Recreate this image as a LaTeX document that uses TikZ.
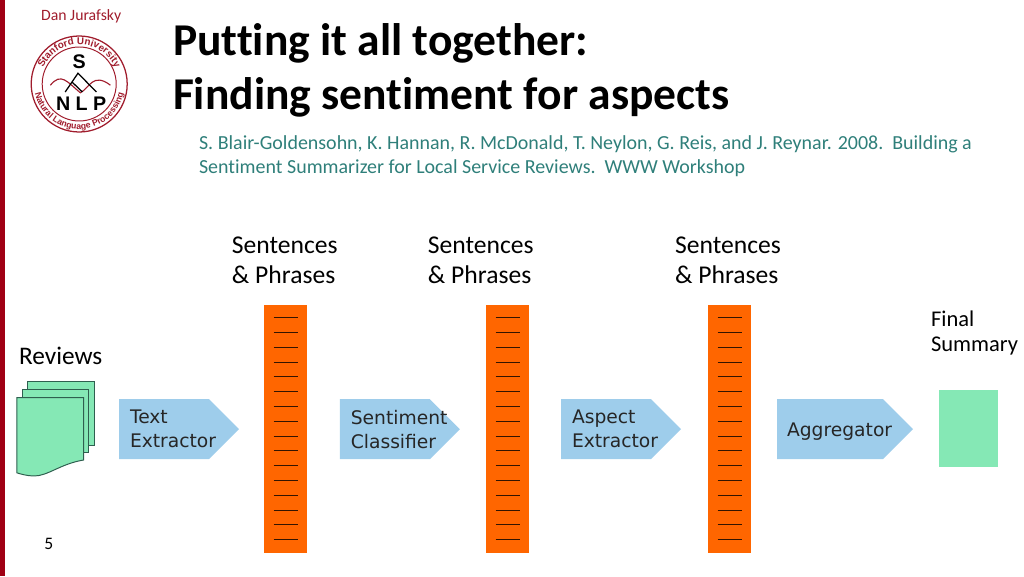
\documentclass[tikz,border=0pt]{standalone}
\usepackage{fontspec}
\setmainfont{Carlito}[Ligatures=NoCommon]
\newfontfamily\stagefont{DejaVu Sans}
\newfontfamily\logofont{Liberation Sans}
\usepackage{tikz}
\usetikzlibrary{shapes.symbols, decorations.text}
\definecolor{slidered}{HTML}{A00014}
\definecolor{logored}{HTML}{A01C2C}
\definecolor{citeteal}{HTML}{2F7F7A}
\definecolor{stagefill}{HTML}{9ECDEB}
\definecolor{barfill}{HTML}{FF6600}
\definecolor{pagefill}{HTML}{85E8B5}
\definecolor{pageline}{HTML}{2F5F4F}

\begin{document}
\begin{tikzpicture}
    \tikzstyle{stage} = [signal, signal to=east, signal from=nowhere, signal pointer angle=90, minimum width=3cm, minimum height=1.5cm, inner sep=0pt, text width=1.7cm, align=left, fill=stagefill, text=black!85, font=\stagefont\fontsize{13.3}{17}\selectfont]
    \tikzstyle{bar} = [rectangle, minimum width=1.075cm, minimum height=6.2cm, inner sep=0pt, fill=barfill]
    \tikzstyle{barlabel} = [font=\fontsize{18.2}{21.5}\selectfont, align=left, inner sep=0pt]
    \tikzstyle{sheet} = [draw=pageline, fill=pagefill, line width=.7pt]
    \useasboundingbox (0cm,0cm) rectangle (25.6cm,14.4cm);
    \fill[slidered] (0cm,0cm) rectangle (.125cm,14.4cm);
    % header
    \node (author) [text=logored, font=\fontsize{11.2}{13}\selectfont, inner sep=0pt] at (2.03cm,13.98cm) {Dan Jurafsky};
    \node (title) [font=\bfseries\fontsize{32.4}{38.4}\selectfont, align=left, inner sep=0pt, anchor=west] at (4.32cm,12.63cm) {Putting it all together:\\Finding sentiment for aspects};
    \node (cite) [text=citeteal, font=\fontsize{14.2}{17}\selectfont, align=left, inner sep=0pt, anchor=west] at (4.97cm,10.5cm) {S. Blair-Goldensohn, K. Hannan, R. McDonald, T. Neylon, G. Reis, and J. Reynar. 2008.~~Building a\\Sentiment Summarizer for Local Service Reviews.~~WWW Workshop};
    % logo
    \coordinate (logo) at (1.98cm,12.3cm);
    \draw[logored, line width=.9pt] (logo) circle (1.2cm);
    \draw[logored, line width=.7pt] (logo) circle (.925cm);
    \path[decorate, decoration={text along path, text align=center, text={|\logofont\bfseries\fontsize{7}{7}\selectfont\color{logored}|Stanford University}}] ([shift={(165:.985cm)}]logo) arc (165:15:.985cm);
    \path[decorate, decoration={text along path, text align=center, text={|\logofont\bfseries\fontsize{6.2}{6.2}\selectfont\color{logored}|Natural Language Processing}}] ([shift={(180:1.13cm)}]logo) arc (180:360:1.13cm);
    \node (logo-s) [font=\logofont\bfseries\fontsize{14}{14}\selectfont, inner sep=0pt] at ([yshift=.55cm]logo) {S};
    \node (logo-nlp) [font=\logofont\bfseries\fontsize{14}{14}\selectfont, inner sep=0pt] at ([shift={(.05cm,-.5cm)}]logo) {N L P};
    \draw[logored, line width=.8pt] ([shift={(-.72cm,-.03cm)}]logo) .. controls ([shift={(-.45cm,.3cm)}]logo) and ([shift={(-.3cm,.05cm)}]logo) .. ([shift={(.03cm,-.22cm)}]logo) .. controls ([shift={(.25cm,-.1cm)}]logo) and ([shift={(.35cm,.3cm)}]logo) .. ([shift={(.78cm,-.03cm)}]logo);
    \draw[black, line width=.9pt] ([shift={(-.35cm,-.2cm)}]logo) -- ([shift={(-.03cm,.27cm)}]logo) -- ([shift={(.43cm,-.2cm)}]logo);
    \draw[black, line width=.9pt] ([shift={(-.18cm,.05cm)}]logo) -- ([shift={(.08cm,-.2cm)}]logo);
    % reviews
    \node (reviews) [font=\fontsize{18}{20}\selectfont, inner sep=0pt, anchor=west] at (.47cm,5.5cm) {Reviews};
    \draw[sheet] (.68cm,4.87cm) rectangle (2.35cm,3.27cm);
    \draw[sheet] (.56cm,4.66cm) rectangle (2.2cm,3.1cm);
    \draw[sheet] (.42cm,4.46cm) -- (2.09cm,4.46cm) -- (2.09cm,2.9cm) .. controls (1.5cm,2.8cm) and (1.2cm,2.5cm) .. (.85cm,2.5cm) .. controls (.7cm,2.5cm) and (.5cm,2.55cm) .. (.42cm,2.58cm) -- cycle;
    % stages
    \node (text-extractor) [stage] at (4.1cm,3.67cm) {Text\\Extractor};
    \node (sentiment-classifier) [stage] at (9.62cm,3.67cm) {Sentiment\\Classifier};
    \node (aspect-extractor) [stage] at (15.15cm,3.67cm) {Aspect\\Extractor};
    \node (aggregator) [stage, minimum width=3.4cm, text width=2.15cm, text depth=0pt] at (20.75cm,3.67cm) {Aggregator};
    % bars
    \foreach \i/\x in {1/7.14,2/12.69,3/18.24} {
        \node (bar\i) [bar] at (\x cm,3.675cm) {};
        \foreach \y in {.325,.695,...,5.9}
            \draw[black!80!barfill, thick] ([xshift=-.3cm,yshift=-\y cm]bar\i.north) -- ([xshift=.3cm,yshift=-\y cm]bar\i.north);
    }
    \node (phrases1) [barlabel] at (7.12cm,7.89cm) {Sentences\\\& Phrases};
    \node (phrases2) [barlabel] at (12.02cm,7.89cm) {Sentences\\\& Phrases};
    \node (phrases3) [barlabel] at (18.2cm,7.89cm) {Sentences\\\& Phrases};
    % summary
    \node (summary) [fill=pagefill, minimum width=1.48cm, minimum height=1.92cm, inner sep=0pt] at (24.22cm,3.68cm) {};
    \node (final) [font=\fontsize{16}{17.5}\selectfont, align=left, inner sep=0pt, anchor=west] at (23.27cm,6.07cm) {Final\\Summary};
    \node (page) [font=\fontsize{12.5}{15}\selectfont, inner sep=0pt] at (1.22cm,.8cm) {5};
\end{tikzpicture}
\end{document}
